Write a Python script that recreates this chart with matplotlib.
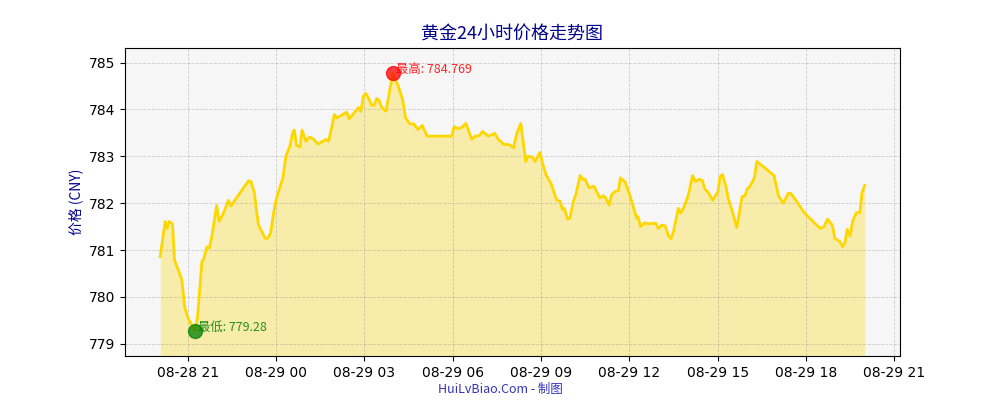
import matplotlib
matplotlib.use('Agg')
import matplotlib.pyplot as plt
import matplotlib.dates as mdates
import pandas as pd

plt.rcParams['font.family'] = ['DejaVu Sans', 'Noto Sans CJK SC']
CJK = ['Noto Sans CJK SC', 'DejaVu Sans']

# gold price over 24 hours (CNY / gram)
times = [
    '08-28 20:04', '08-28 20:14', '08-28 20:18', '08-28 20:22', '08-28 20:29',
    '08-28 20:33', '08-28 20:41', '08-28 20:48', '08-28 20:54', '08-28 21:01',
    '08-28 21:15', '08-28 21:20', '08-28 21:29', '08-28 21:33', '08-28 21:39',
    '08-28 21:44', '08-28 21:49', '08-28 21:59', '08-28 22:04', '08-28 22:13',
    '08-28 22:23', '08-28 22:28', '08-28 23:04', '08-28 23:09', '08-28 23:16',
    '08-28 23:24', '08-28 23:38', '08-28 23:43', '08-28 23:49', '08-28 23:55',
    '08-29 00:01', '08-29 00:14', '08-29 00:20', '08-29 00:28', '08-29 00:34',
    '08-29 00:37', '08-29 00:42', '08-29 00:49', '08-29 00:53', '08-29 01:01',
    '08-29 01:08', '08-29 01:16', '08-29 01:26', '08-29 01:35', '08-29 01:42',
    '08-29 01:47', '08-29 01:51', '08-29 01:59', '08-29 02:04', '08-29 02:24',
    '08-29 02:29', '08-29 02:38', '08-29 02:48', '08-29 02:53', '08-29 02:58',
    '08-29 03:03', '08-29 03:08', '08-29 03:15', '08-29 03:20', '08-29 03:25',
    '08-29 03:30', '08-29 03:35', '08-29 03:44', '08-29 03:51', '08-29 03:58',
    '08-29 04:09', '08-29 04:18', '08-29 04:24', '08-29 04:33', '08-29 04:41',
    '08-29 04:49', '08-29 04:58', '08-29 05:08', '08-29 05:58', '08-29 06:03',
    '08-29 06:10', '08-29 06:18', '08-29 06:27', '08-29 06:39', '08-29 06:46',
    '08-29 06:54', '08-29 07:01', '08-29 07:13', '08-29 07:26', '08-29 07:33',
    '08-29 07:45', '08-29 07:55', '08-29 08:04', '08-29 08:11', '08-29 08:19',
    '08-29 08:29', '08-29 08:33', '08-29 08:41', '08-29 08:48', '08-29 08:58',
    '08-29 09:03', '08-29 09:10', '08-29 09:20', '08-29 09:32', '08-29 09:39',
    '08-29 09:44', '08-29 09:48', '08-29 09:54', '08-29 09:59', '08-29 10:06',
    '08-29 10:11', '08-29 10:20', '08-29 10:25', '08-29 10:30', '08-29 10:38',
    '08-29 10:48', '08-29 11:00', '08-29 11:07', '08-29 11:12', '08-29 11:19',
    '08-29 11:24', '08-29 11:31', '08-29 11:38', '08-29 11:42', '08-29 11:51',
    '08-29 12:01', '08-29 12:10', '08-29 12:15', '08-29 12:18', '08-29 12:23',
    '08-29 12:32', '08-29 12:39', '08-29 12:54', '08-29 12:59', '08-29 13:06',
    '08-29 13:13', '08-29 13:20', '08-29 13:25', '08-29 13:30', '08-29 13:40',
    '08-29 13:45', '08-29 13:52', '08-29 14:00', '08-29 14:09', '08-29 14:15',
    '08-29 14:23', '08-29 14:29', '08-29 14:34', '08-29 14:41', '08-29 14:50',
    '08-29 15:01', '08-29 15:05', '08-29 15:10', '08-29 15:17', '08-29 15:22',
    '08-29 15:29', '08-29 15:39', '08-29 15:50', '08-29 15:56', '08-29 16:00',
    '08-29 16:06', '08-29 16:15', '08-29 16:20', '08-29 16:55', '08-29 17:04',
    '08-29 17:14', '08-29 17:24', '08-29 17:29', '08-29 17:41', '08-29 17:55',
    '08-29 18:01', '08-29 18:29', '08-29 18:37', '08-29 18:44', '08-29 18:54',
    '08-29 18:59', '08-29 19:09', '08-29 19:15', '08-29 19:20', '08-29 19:24',
    '08-29 19:30', '08-29 19:35', '08-29 19:43', '08-29 19:50', '08-29 19:54',
    '08-29 20:00',
]
prices = [
    780.86, 781.61, 781.46, 781.61, 781.56,
    780.79, 780.57, 780.36, 779.78, 779.54,
    779.28, 779.57, 780.75, 780.82, 781.07,
    781.04, 781.28, 781.95, 781.61, 781.79,
    782.06, 781.94, 782.48, 782.46, 782.21,
    781.54, 781.25, 781.25, 781.36, 781.79,
    782.11, 782.54, 783.00, 783.21, 783.50,
    783.56, 783.23, 783.20, 783.56, 783.32,
    783.41, 783.37, 783.26, 783.32, 783.36,
    783.32, 783.50, 783.89, 783.82, 783.94,
    783.80, 783.91, 784.04, 783.96, 784.28,
    784.34, 784.25, 784.09, 784.09, 784.23,
    784.20, 784.05, 783.96, 784.36, 784.769,
    784.50, 784.21, 783.82, 783.69, 783.69,
    783.57, 783.66, 783.43, 783.43, 783.63,
    783.59, 783.61, 783.70, 783.36, 783.43,
    783.44, 783.53, 783.43, 783.49, 783.36,
    783.25, 783.25, 783.18, 783.50, 783.70,
    782.89, 783.00, 782.99, 782.89, 783.08,
    782.86, 782.61, 782.43, 782.07, 782.04,
    781.86, 781.89, 781.66, 781.68, 782.04,
    782.18, 782.59, 782.51, 782.51, 782.33,
    782.36, 782.11, 782.16, 782.11, 781.96,
    782.18, 782.25, 782.27, 782.54, 782.46,
    782.18, 781.86, 781.68, 781.71, 781.50,
    781.58, 781.56, 781.57, 781.46, 781.53,
    781.52, 781.30, 781.24, 781.39, 781.89,
    781.79, 781.93, 782.16, 782.59, 782.46,
    782.51, 782.48, 782.30, 782.23, 782.06,
    782.25, 782.57, 782.61, 782.36, 782.09,
    781.86, 781.48, 782.14, 782.16, 782.30,
    782.36, 782.54, 782.89, 782.59, 782.16,
    782.00, 782.21, 782.21, 782.04, 781.82,
    781.75, 781.46, 781.50, 781.66, 781.53,
    781.25, 781.18, 781.07, 781.18, 781.44,
    781.30, 781.61, 781.80, 781.80, 782.21,
    782.38,
]

t = pd.to_datetime(['2024-' + s for s in times], format='%Y-%m-%d %H:%M')
low = 778.74
high = 785.31

fig, ax = plt.subplots(figsize=(10, 4), dpi=100)
ax.set_facecolor('#f6f6f6')

ax.plot(t, prices, color='#FFD700', linewidth=2)
ax.fill_between(t, prices, low, color='#FFD700', alpha=0.3, linewidth=0)

# highest / lowest points
i_max = prices.index(max(prices))
i_min = prices.index(min(prices))
ax.scatter(t[i_max], prices[i_max], s=100, color='red', alpha=0.75, zorder=5)
ax.scatter(t[i_min], prices[i_min], s=100, color='green', alpha=0.75, zorder=5)
ax.text(t[i_max], prices[i_max], f' 最高: {prices[i_max]}', color='red',
        fontsize=9, family=CJK, alpha=0.85)
ax.text(t[i_min], prices[i_min], f' 最低: {prices[i_min]}', color='green',
        fontsize=9, family=CJK, alpha=0.85)

ax.set_ylim(low, high)
ax.xaxis.set_major_locator(mdates.HourLocator(byhour=range(0, 24, 3)))
ax.xaxis.set_major_formatter(mdates.DateFormatter('%m-%d %H'))
ax.grid(True, linestyle='--', color='gray', alpha=0.35, linewidth=0.6)

ax.set_title('黄金24小时价格走势图', fontsize=13, color='darkblue', family=CJK)
ax.set_ylabel('价格 (CNY)', fontsize=10, color='darkblue', family=CJK)
fig.text(0.5, 0.027, 'HuiLvBiao.Com - 制图', ha='center', va='center',
         fontsize=9, color='#3333bb', family=CJK)

fig.savefig('out.png')
